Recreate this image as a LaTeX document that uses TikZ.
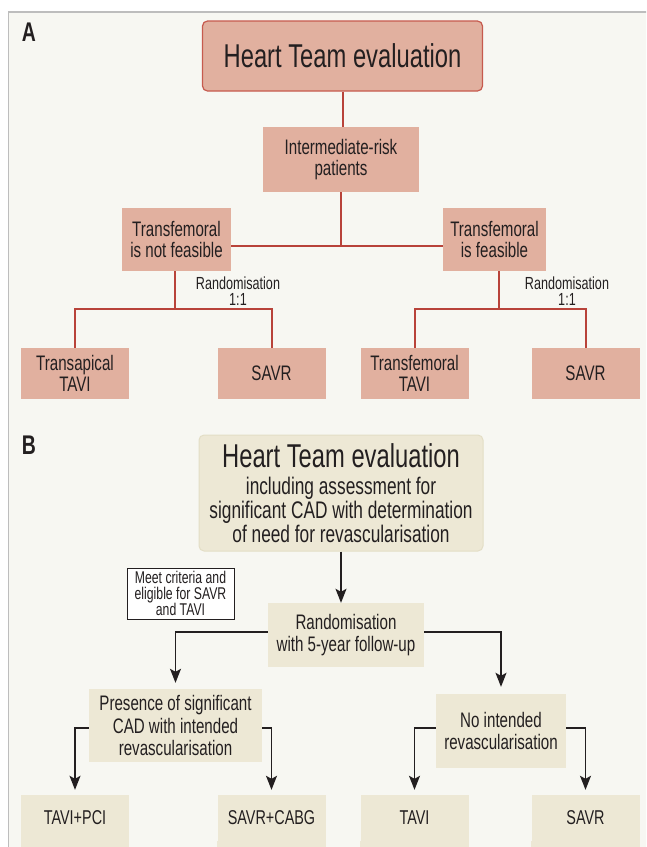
\documentclass[tikz,border=0pt]{standalone}
\usepackage{fontspec}
\setmainfont{Liberation Sans}[FakeStretch=0.72]
\usetikzlibrary{arrows.meta}
\definecolor{bgc}{HTML}{F7F7F2}
\definecolor{framec}{HTML}{BDBDBD}
\definecolor{salmon}{HTML}{E1B09F}
\definecolor{redl}{HTML}{B8433A}
\definecolor{heartA}{HTML}{C65A4E}
\definecolor{beige}{HTML}{EDE8D5}
\definecolor{heartB}{HTML}{E3DEC6}
\definecolor{ink}{HTML}{231F20}
\begin{document}
\begin{tikzpicture}[x=1pt,y=-1pt,
  every node/.style={text=ink, inner sep=0pt, align=center},
  sbox/.style={fill=salmon, font=\fontsize{21}{21.5}\selectfont},
  bbox/.style={fill=beige, font=\fontsize{21}{22.5}\selectfont},
  redline/.style={draw=redl, line width=2pt},
  blkline/.style={draw=ink, line width=1.4pt},
  blkarrow/.style={blkline, -{Stealth[length=14pt,width=11pt,inset=3pt]}},
  randlab/.style={font=\fontsize{17.5}{16}\selectfont},
  panlab/.style={font=\bfseries\fontsize{27}{27}\selectfont}
]
\useasboundingbox (0,0) rectangle (646,847);
\clip (0,0) rectangle (646,847);
\fill[white] (0,0) rectangle (646,847);
\draw[draw=framec, line width=1.5pt, fill=bgc] (8.5,12) rectangle (700,900);

% ---------- Panel A ----------
\node[panlab] (labA) at (29,32) {A};
\node[sbox, draw=heartA, line width=1.2pt, rounded corners=5pt, minimum width=280pt, minimum height=70pt, font=\fontsize{33}{33}\selectfont] (hA) at (342.5,56) {Heart Team evaluation};
\node[sbox, minimum width=156pt, minimum height=65pt] (intA) at (341,159.5) {Intermediate-risk\\patients};
\node[sbox, minimum width=109pt, minimum height=63pt] (nfA) at (176.5,239.5) {Transfemoral\\is not feasible};
\node[sbox, minimum width=103pt, minimum height=63pt] (fA) at (494.5,239.5) {Transfemoral\\is feasible};
\node[sbox, minimum width=108pt, minimum height=51pt] (taA) at (75,373.5) {Transapical\\TAVI};
\node[sbox, minimum width=108pt, minimum height=51pt] (s1A) at (271.5,373.5) {SAVR};
\node[sbox, minimum width=108pt, minimum height=51pt] (tfA) at (414.5,373.5) {Transfemoral\\TAVI};
\node[sbox, minimum width=108pt, minimum height=51pt] (s2A) at (585.5,373.5) {SAVR};

\coordinate (jA) at (341,246);
\coordinate (rA1) at (175,309);
\coordinate (rA2) at (499,309);
\draw[redline] (hA.south) -- (hA.south |- intA.north);
\draw[redline] (intA.south) -- (jA);
\draw[redline] (nfA.east |- jA) -- (fA.west |- jA);
\draw[redline] (nfA.south -| rA1) -- (rA1);
\draw[redline] (taA.north) |- (rA1) -| (s1A.north);
\draw[redline] (fA.south -| rA2) -- (rA2);
\draw[redline] (tfA.north) |- (rA2) -| (s2A.north);

\node[randlab] (randL) at (238,291) {Randomisation\\1:1};
\node[randlab] (randR) at (567,291) {Randomisation\\1:1};

% ---------- Panel B ----------
\node[panlab] (labB) at (29,445) {B};
\node[bbox, draw=heartB, line width=1pt, rounded corners=5pt, minimum width=284pt, minimum height=116pt, font=\fontsize{24}{24}\selectfont] (hB) at (341,493)
  {{\fontsize{33}{33}\selectfont Heart Team evaluation}\\[3pt]including assessment for\\significant CAD with determination\\of need for revascularisation};
\node[fill=white, draw=ink, line width=1pt, minimum width=107pt, minimum height=51pt, font=\fontsize{17}{16}\selectfont] (meet) at (180.5,593.5) {Meet criteria and\\eligible for SAVR\\and TAVI};
\node[bbox, minimum width=156pt, minimum height=64pt] (randB) at (346,635) {Randomisation\\with 5-year follow-up};
\node[bbox, minimum width=173pt, minimum height=73pt] (pres) at (175.5,725.5) {Presence of significant\\CAD with intended\\revascularisation};
\node[bbox, minimum width=130pt, minimum height=74pt] (noint) at (501,731) {No intended\\revascularisation};

\node[bbox, minimum width=108pt, minimum height=46pt, font=\fontsize{20}{20}\selectfont] (tpB) at (75,818) {TAVI+PCI};
\node[bbox, minimum width=108pt, minimum height=46pt, font=\fontsize{20}{20}\selectfont] (scB) at (271.5,818) {SAVR+CABG};
\node[bbox, minimum width=108pt, minimum height=46pt, font=\fontsize{20}{20}\selectfont] (tB) at (414.5,818) {TAVI};
\node[bbox, minimum width=108pt, minimum height=46pt, font=\fontsize{20}{20}\selectfont] (sB) at (585.5,818) {SAVR};
\foreach \n in {tpB,scB,tB,sB}{
  \fill[beige] ([yshift=0.5pt]\n.south west) rectangle ([yshift=-30pt]\n.south east);
}

\draw[blkarrow] (hB.south) -- (hB.south |- randB.north);
\draw[blkarrow] ([yshift=3pt]randB.west) -| ([yshift=6pt]pres.north);
\draw[blkarrow] ([yshift=3pt]randB.east) -| ([yshift=7pt]noint.north);
\draw[blkarrow] ([yshift=-2.5pt]pres.west) -| ([yshift=5pt]tpB.north);
\draw[blkarrow] ([yshift=-2.5pt]pres.east) -| ([yshift=5pt]scB.north);
\draw[blkarrow] ([yshift=3pt]noint.west) -| ([yshift=5pt]tB.north);
\draw[blkarrow] ([yshift=3pt]noint.east) -| ([yshift=5pt]sB.north);
\end{tikzpicture}
\end{document}
